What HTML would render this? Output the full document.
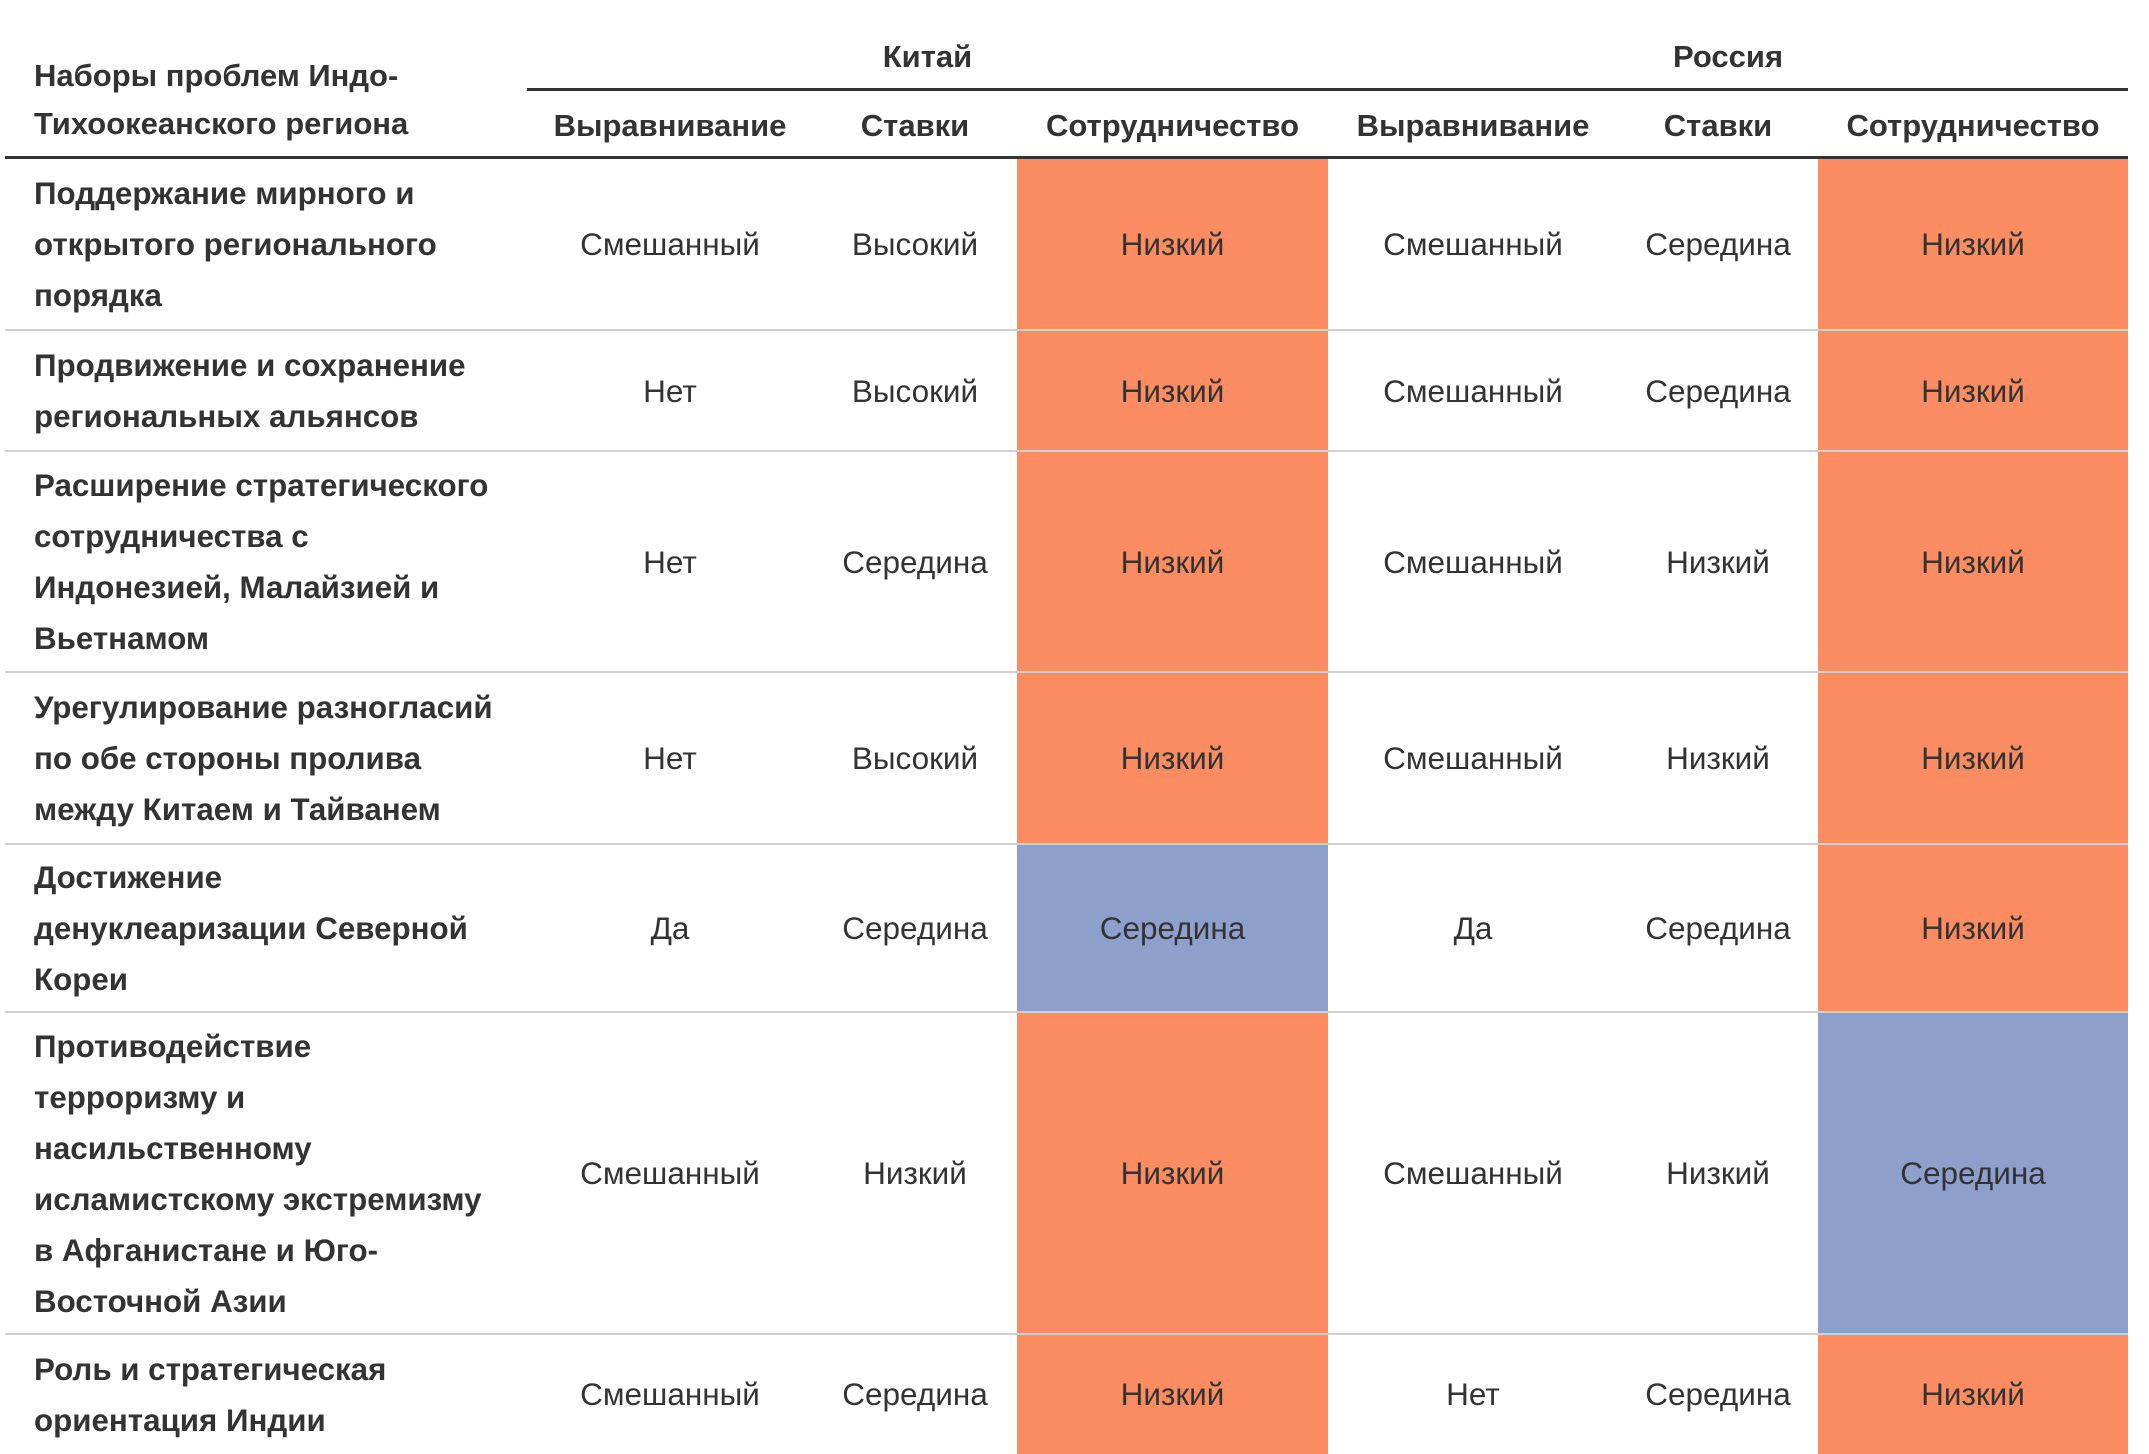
<!DOCTYPE html>
<html><head><meta charset="utf-8"><style>
html,body{margin:0;padding:0;background:#fff;}
#root{position:relative;width:2149px;height:1454px;overflow:hidden;font-family:"Liberation Sans",sans-serif;color:#333;}
.a{position:absolute;}
.cell{position:absolute;display:flex;align-items:center;justify-content:center;font-size:31.5px;}
.lab{position:absolute;left:34px;font-size:31.3px;font-weight:bold;line-height:51px;display:flex;align-items:center;white-space:nowrap;}
.hd{position:absolute;font-size:31px;font-weight:bold;text-align:center;white-space:nowrap;}
</style></head><body>
<div id="root"></div>
<script>
const rowLabels=[
"Поддержание мирного и<br>открытого регионального<br>порядка",
"Продвижение и сохранение<br>региональных альянсов",
"Расширение стратегического<br>сотрудничества с<br>Индонезией, Малайзией и<br>Вьетнамом",
"Урегулирование разногласий<br>по обе стороны пролива<br>между Китаем и Тайванем",
"Достижение<br>денуклеаризации Северной<br>Кореи",
"Противодействие<br>терроризму и<br>насильственному<br>исламистскому экстремизму<br>в Афганистане и Юго-<br>Восточной Азии",
"Роль и стратегическая<br>ориентация Индии"];
const chinaAlign=["Смешанный","Нет","Нет","Нет","Да","Смешанный","Смешанный"];
const chinaStakes=["Высокий","Высокий","Середина","Высокий","Середина","Низкий","Середина"];
const chinaCoop=["Низкий","Низкий","Низкий","Низкий","Середина","Низкий","Низкий"];
const russiaAlign=["Смешанный","Смешанный","Смешанный","Смешанный","Да","Смешанный","Нет"];
const russiaStakes=["Середина","Середина","Низкий","Низкий","Середина","Низкий","Середина"];
const russiaCoop=["Низкий","Низкий","Низкий","Низкий","Низкий","Середина","Низкий"];
const subHeaders=["Выравнивание","Ставки","Сотрудничество","Выравнивание","Ставки","Сотрудничество"];
const groupHeaders=["Китай","Россия"];

const root=document.getElementById('root');
const rowEdges=[157,330,451,672,844,1012,1334,1454];
const colEdges=[527,813,1017,1328,1618,1818,2128];
const coopColor={"Низкий":"#fc8d62","Середина":"#8da0cb"};
function mk(cls,l,t,w,h,html){const d=document.createElement('div');d.className=cls;d.style.left=l+'px';d.style.top=t+'px';d.style.width=w+'px';d.style.height=h+'px';if(html!==undefined)d.innerHTML=html;root.appendChild(d);return d;}

let h=mk('hd',34,52,480,110,'Наборы проблем Индо-<br>Тихоокеанского региона');
h.style.textAlign='left';h.style.lineHeight='48px';


groupHeaders.forEach((g,i)=>{
  const l=colEdges[i*3],r=colEdges[i*3+3];
  const e=mk('hd',l,39,r-l,40,g);
  
  
});
let gl=mk('a',527,88,1601,3);gl.style.background='#333';


subHeaders.forEach((s,i)=>{
  const e=mk('hd',colEdges[i],108,colEdges[i+1]-colEdges[i],40,s);
  
  
});
let hl=mk('a',5,156,2123,3);hl.style.background='#333';



const cols=[chinaAlign,chinaStakes,chinaCoop,russiaAlign,russiaStakes,russiaCoop];
rowLabels.forEach((lab,r)=>{
  const t=rowEdges[r]+(r===0?2:1),b=rowEdges[r+1];
  const l=mk('lab',34,t,490,b-t,'<div>'+lab+'</div>');
  
  
  cols.forEach((arr,c)=>{
    const v=arr[r];
    const e=mk('cell',colEdges[c],t,colEdges[c+1]-colEdges[c],b-t,v);
    if(c===2||c===5){e.style.background=coopColor[v]||'#fff';}
    
    
  });
  if(r<rowLabels.length-1){
    const s=mk('a',5,rowEdges[r+1]-1,2123,2);s.style.background='#d0d0d0';
    
    
  }
});
</script>
</body></html>
